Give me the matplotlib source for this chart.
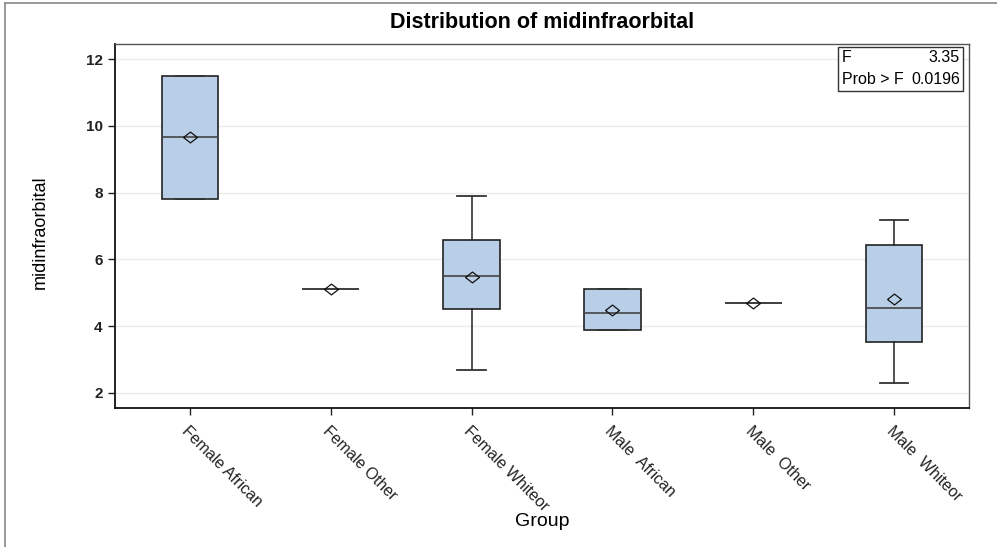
import matplotlib
matplotlib.use("Agg")
import matplotlib.pyplot as plt
from matplotlib.lines import Line2D
from matplotlib.patches import Rectangle

plt.rcParams['font.family'] = ['Liberation Sans', 'DejaVu Sans']

groups = ["Female African", "Female Other", "Female Whiteor",
          "Male  African", "Male  Other", "Male  Whiteor"]
q1 = [7.80, 5.10, 4.50, 3.90, 4.70, 3.54]
medians = [9.66, 5.10, 5.50, 4.40, 4.70, 4.55]
q3 = [11.50, 5.10, 6.59, 5.11, 4.70, 6.44]
whisker_low = [7.80, 5.10, 2.70, 3.90, 4.70, 2.30]
whisker_high = [11.50, 5.10, 7.90, 5.11, 4.70, 7.19]
means = [9.66, 5.10, 5.48, 4.48, 4.70, 4.80]
y_ticks = [2, 4, 6, 8, 10, 12]
f_value = "3.35"
p_value = "0.0196"

fig = plt.figure(figsize=(9.97, 5.47), dpi=100)
ax = fig.add_axes([115/997, 1-408/547, (969-115)/997, (408-44)/547])

stats = []
for i, g in enumerate(groups):
    stats.append(dict(label=g, med=medians[i], q1=q1[i], q3=q3[i],
                      whislo=whisker_low[i], whishi=whisker_high[i],
                      mean=means[i], fliers=[]))

positions = list(range(len(groups)))
diamond = [(-1, 0), (0, 0.78), (1, 0), (0, -0.78), (-1, 0)]
ax.bxp(stats, positions=positions, widths=0.4, patch_artist=True,
       showmeans=True, capwidths=0.2,
       boxprops=dict(facecolor="#B9CFE7", edgecolor="#222222", linewidth=1.2),
       medianprops=dict(color="#444444", linewidth=1.2),
       whiskerprops=dict(color="#222222", linewidth=1.1),
       capprops=dict(color="#333333", linewidth=1.3),
       meanprops=dict(marker=diamond, markerfacecolor="none",
                      markeredgecolor="#111111", markersize=10,
                      markeredgewidth=0.9),
       zorder=3)

ax.set_xlim(-0.53, 5.53)
ax.set_ylim(1.55, 12.45)
ax.set_yticks(y_ticks)
ax.set_yticklabels([str(v) for v in y_ticks], fontsize=11, fontweight="bold")
ax.set_xticks(positions)
ax.set_xticklabels(groups, rotation=-45, ha="left", va="top",
                   rotation_mode="anchor", fontsize=11.5)
ax.tick_params(axis="x", length=5, width=1, colors="#222222", pad=6)
ax.tick_params(axis="y", length=5, width=1, colors="#222222", pad=4)
ax.yaxis.grid(True, color="#EBEBEB", linewidth=1, zorder=0)
ax.set_axisbelow(True)
for side in ["left", "bottom"]:
    ax.spines[side].set_linewidth(1.3)
    ax.spines[side].set_color("#111111")
for side in ["top", "right"]:
    ax.spines[side].set_linewidth(1.0)
    ax.spines[side].set_color("#555555")

fig.text(542/997, 1-522/547, "Group", fontsize=14, ha="center", va="center")
fig.text(40/997, 1-232/547, "midinfraorbital", fontsize=13, rotation=90,
         ha="center", va="center")
fig.text(542/997, 1-22/547, "Distribution of midinfraorbital", fontsize=15.5,
         fontweight="bold", ha="center", va="center")

# inset statistics box
bx0, by0, bx1, by1 = 838/997, 1-91/547, 963/997, 1-47/547
fig.add_artist(Rectangle((bx0, by0), bx1-bx0, by1-by0, transform=fig.transFigure,
                         facecolor="white", edgecolor="#333333", linewidth=1, zorder=5))
fig.text(bx0+0.004, 1-58/547, "F", fontsize=11.5, va="center", ha="left", zorder=6)
fig.text(bx1-0.003, 1-58/547, f_value, fontsize=11.5, va="center", ha="right", zorder=6)
fig.text(bx0+0.004, 1-79/547, "Prob > F", fontsize=11.5, va="center", ha="left", zorder=6)
fig.text(bx1-0.003, 1-79/547, p_value, fontsize=11.5, va="center", ha="right", zorder=6)

# outer border (left and top)
fig.add_artist(Line2D([5/997, 5/997], [0, 1-3/547], transform=fig.transFigure,
                      color="#888888", linewidth=1.2))
fig.add_artist(Line2D([5/997, 1], [1-3/547, 1-3/547], transform=fig.transFigure,
                      color="#888888", linewidth=1.2))

fig.savefig("out.png", dpi=100)
